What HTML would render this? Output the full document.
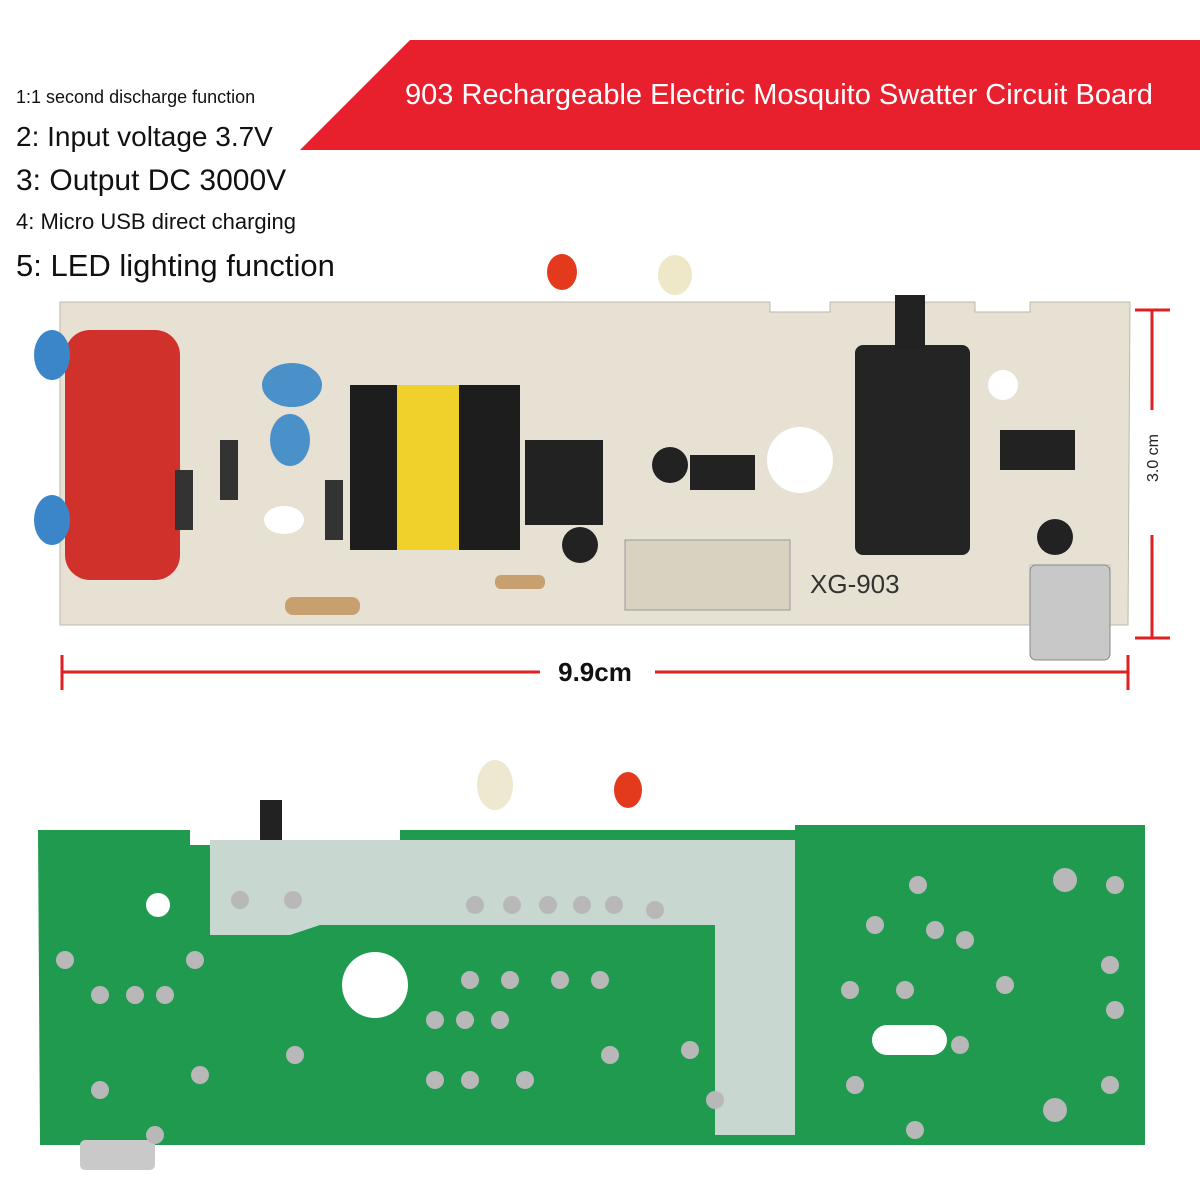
<!DOCTYPE html>
<html><head><style>
body{margin:0;width:1200px;height:1200px;background:#fff;position:relative;overflow:hidden;font-family:"Liberation Sans",sans-serif}
.t{position:absolute;left:16px;color:#111;white-space:nowrap}
</style></head><body>
<svg width="1200" height="1200" style="position:absolute;left:0;top:0">
<polygon points="410,40 1200,40 1200,150 300,150" fill="#e8202e"/>
<polygon points="60,302 770,302 770,312 830,312 830,302 975,302 975,312 1030,312 1030,302 1130,302 1128,625 1110,625 1110,565 1030,565 1030,625 60,625" fill="#e6e1d3" stroke="#bdb8aa"/>
<rect x="65" y="330" width="115" height="250" rx="25" fill="#d0312a"/>
<ellipse cx="52" cy="355" rx="18" ry="25" fill="#3b86c8"/><ellipse cx="52" cy="520" rx="18" ry="25" fill="#3b86c8"/>
<ellipse cx="292" cy="385" rx="30" ry="22" fill="#4a90c9"/><ellipse cx="290" cy="440" rx="20" ry="26" fill="#4a90c9"/>
<rect x="350" y="385" width="170" height="165" fill="#1d1d1d"/><rect x="397" y="385" width="62" height="165" fill="#f0d02a"/>
<rect x="525" y="440" width="78" height="85" fill="#222"/>
<rect x="625" y="540" width="165" height="70" fill="#d9d2c0" stroke="#999"/>
<rect x="690" y="455" width="65" height="35" fill="#222"/>
<rect x="1000" y="430" width="75" height="40" fill="#222"/>
<circle cx="800" cy="460" r="33" fill="#fff"/>
<ellipse cx="284" cy="520" rx="20" ry="14" fill="#fff"/>
<circle cx="1003" cy="385" r="15" fill="#fff"/>
<rect x="855" y="345" width="115" height="210" rx="8" fill="#242424"/><rect x="895" y="295" width="30" height="55" fill="#222"/>
<circle cx="580" cy="545" r="18" fill="#222"/><circle cx="670" cy="465" r="18" fill="#222"/><circle cx="1055" cy="537" r="18" fill="#222"/>
<rect x="1030" y="565" width="80" height="95" rx="6" fill="#c8c8c8" stroke="#888"/>
<rect x="325" y="480" width="18" height="60" fill="#333"/><rect x="220" y="440" width="18" height="60" fill="#333"/><rect x="175" y="470" width="18" height="60" fill="#333"/>
<rect x="285" y="597" width="75" height="18" rx="8" fill="#c8a070"/><rect x="495" y="575" width="50" height="14" rx="6" fill="#c8a070"/>
<ellipse cx="562" cy="272" rx="15" ry="18" fill="#e33a1e"/><ellipse cx="675" cy="275" rx="17" ry="20" fill="#eee8c8"/>
<text x="810" y="593" font-size="26" fill="#333">XG-903</text>
<g stroke="#e02020" stroke-width="3">
<line x1="62" y1="672" x2="540" y2="672"/><line x1="655" y1="672" x2="1128" y2="672"/>
<line x1="62" y1="655" x2="62" y2="690"/><line x1="1128" y1="655" x2="1128" y2="690"/>
<line x1="1152" y1="310" x2="1152" y2="410"/><line x1="1152" y1="535" x2="1152" y2="638"/>
<line x1="1135" y1="310" x2="1170" y2="310"/><line x1="1135" y1="638" x2="1170" y2="638"/>
</g>
<text x="595" y="681" font-size="26" font-weight="bold" text-anchor="middle" fill="#111">9.9cm</text>
<text transform="translate(1158,458) rotate(-90)" font-size="16" text-anchor="middle" fill="#222">3.0 cm</text>
<ellipse cx="495" cy="785" rx="18" ry="25" fill="#eee8d0"/><ellipse cx="628" cy="790" rx="14" ry="18" fill="#e33a1e"/>
<rect x="260" y="800" width="22" height="45" fill="#222"/>
<polygon points="38,830 190,830 190,845 400,845 400,830 795,830 795,825 1145,825 1145,1145 40,1145" fill="#1f9a4f"/>
<polygon points="210,840 795,840 795,1135 715,1135 715,925 320,925 290,935 210,935" fill="#c8d8d0"/>
<circle cx="375" cy="985" r="33" fill="#fff"/><circle cx="158" cy="905" r="12" fill="#fff"/>
<rect x="872" y="1025" width="75" height="30" rx="15" fill="#fff"/>
<rect x="80" y="1140" width="75" height="30" rx="5" fill="#c9c9c9"/>
<g fill="#b8b8b8">
<circle cx="240" cy="900" r="9"/><circle cx="293" cy="900" r="9"/><circle cx="475" cy="905" r="9"/><circle cx="512" cy="905" r="9"/><circle cx="548" cy="905" r="9"/><circle cx="582" cy="905" r="9"/><circle cx="614" cy="905" r="9"/><circle cx="655" cy="910" r="9"/>
<circle cx="65" cy="960" r="9"/><circle cx="100" cy="995" r="9"/><circle cx="135" cy="995" r="9"/><circle cx="165" cy="995" r="9"/><circle cx="195" cy="960" r="9"/>
<circle cx="435" cy="1020" r="9"/><circle cx="465" cy="1020" r="9"/><circle cx="500" cy="1020" r="9"/><circle cx="470" cy="980" r="9"/><circle cx="510" cy="980" r="9"/><circle cx="560" cy="980" r="9"/><circle cx="600" cy="980" r="9"/>
<circle cx="295" cy="1055" r="9"/><circle cx="200" cy="1075" r="9"/><circle cx="100" cy="1090" r="9"/><circle cx="155" cy="1135" r="9"/>
<circle cx="435" cy="1080" r="9"/><circle cx="470" cy="1080" r="9"/><circle cx="525" cy="1080" r="9"/><circle cx="610" cy="1055" r="9"/><circle cx="690" cy="1050" r="9"/><circle cx="715" cy="1100" r="9"/>
<circle cx="918" cy="885" r="9"/><circle cx="875" cy="925" r="9"/><circle cx="935" cy="930" r="9"/><circle cx="965" cy="940" r="9"/><circle cx="850" cy="990" r="9"/><circle cx="905" cy="990" r="9"/><circle cx="1005" cy="985" r="9"/><circle cx="1110" cy="965" r="9"/><circle cx="1115" cy="1010" r="9"/><circle cx="960" cy="1045" r="9"/><circle cx="855" cy="1085" r="9"/><circle cx="915" cy="1130" r="9"/><circle cx="1110" cy="1085" r="9"/><circle cx="1065" cy="880" r="12"/><circle cx="1115" cy="885" r="9"/><circle cx="1055" cy="1110" r="12"/>
</g>
</svg>
<div style="position:absolute;left:405px;top:79px;color:#fff;font-size:29px;white-space:nowrap">903 Rechargeable Electric Mosquito Swatter Circuit Board</div>
<div class="t" style="top:87px;font-size:18px">1:1 second discharge function</div>
<div class="t" style="top:121px;font-size:28px">2: Input voltage 3.7V</div>
<div class="t" style="top:164px;font-size:30px">3: Output DC 3000V</div>
<div class="t" style="top:209px;font-size:22px">4: Micro USB direct charging</div>
<div class="t" style="top:248px;font-size:31px">5: LED lighting function</div>
</body></html>
